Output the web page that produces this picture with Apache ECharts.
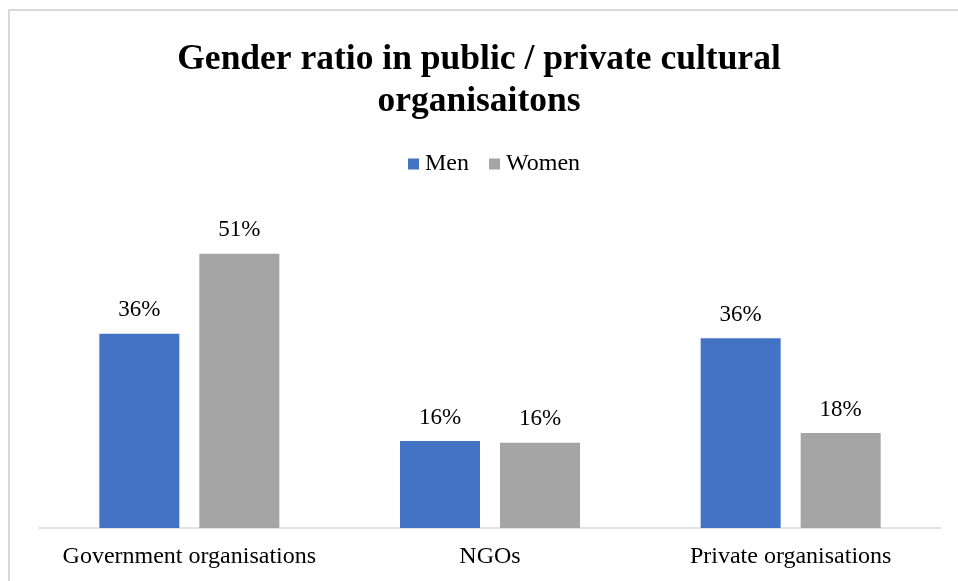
<!DOCTYPE html>
<html>
<head>
<meta charset="utf-8">
<script src="https://cdn.jsdelivr.net/npm/echarts@6/dist/echarts.min.js"></script>
<style>
html,body{margin:0;padding:0;background:#fff;}
#chart{width:958px;height:581px;}
</style>
</head>
<body>
<div id="chart"></div>
<script>
const categories = ['Government organisations', 'NGOs', 'Private organisations'];
const seriesNames = ['Men', 'Women'];
const menValues = [36.4, 16.3, 35.6];
const womenValues = [51.4, 16.0, 17.8];

const FONT = "'Liberation Serif', 'Times New Roman', serif";
const chart = echarts.init(document.getElementById('chart'));
const labelOpt = {
  show: true,
  position: 'top',
  distance: 12,
  color: '#000',
  fontFamily: FONT,
  fontSize: 23,
  formatter: p => Math.round(p.value) + '%'
};
chart.setOption({
  animation: false,
  backgroundColor: '#fff',
  graphic: [{
    type: 'rect',
    shape: { x: 9, y: 10, width: 1000, height: 700 },
    style: { fill: 'none', stroke: '#d9d9d9', lineWidth: 2 },
    silent: true,
    z: -10
  }],
  title: {
    text: 'Gender ratio in public / private cultural\norganisaitons',
    left: 'center',
    top: 34,
    textStyle: {
      fontFamily: FONT,
      fontWeight: 'bold',
      fontSize: 35.5,
      lineHeight: 42,
      color: '#000'
    }
  },
  legend: {
    data: seriesNames,
    left: 403,
    top: 147,
    icon: 'rect',
    itemWidth: 11,
    itemHeight: 11,
    itemGap: 20,
    textStyle: { fontFamily: FONT, fontSize: 24, color: '#000', padding: [0, 0, 0, 1] }
  },
  grid: { left: 39, right: 17, top: 208, bottom: 53, containLabel: false },
  xAxis: {
    type: 'category',
    data: categories,
    axisLine: { lineStyle: { color: '#d9d9d9', width: 1.5 } },
    axisTick: { show: false },
    axisLabel: { interval: 0, fontFamily: FONT, fontSize: 24, color: '#000', margin: 17 }
  },
  yAxis: {
    type: 'value',
    min: 0,
    max: 60,
    show: false,
    splitLine: { show: false }
  },
  series: [
    {
      name: seriesNames[0],
      type: 'bar',
      data: menValues,
      barWidth: 80,
      barGap: '25%',
      itemStyle: { color: '#4472C4' },
      label: labelOpt
    },
    {
      name: seriesNames[1],
      type: 'bar',
      data: womenValues,
      barWidth: 80,
      barGap: '25%',
      itemStyle: { color: '#A5A5A5' },
      label: labelOpt
    }
  ]
});
</script>
</body>
</html>
